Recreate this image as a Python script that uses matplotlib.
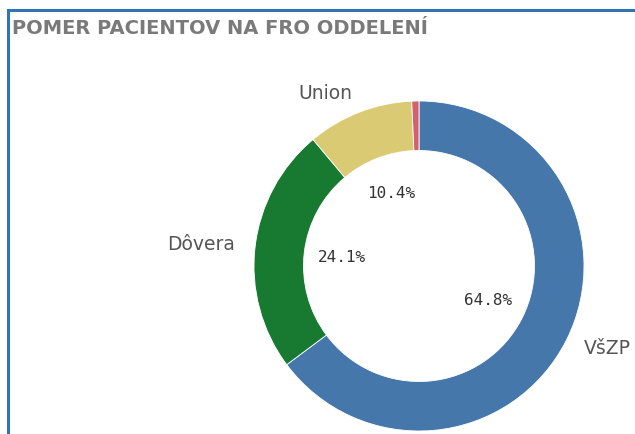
import matplotlib
matplotlib.use("Agg")
import matplotlib.pyplot as plt
from matplotlib.lines import Line2D

title = "POMER PACIENTOV NA FRO ODDELENÍ"
labels = ["VšZP", "Dôvera", "Union", ""]
shares = [64.8, 24.1, 10.4, 0.7]
colors = ["#4677aa", "#187a31", "#dbca74", "#d2606e"]

W, H = 635, 434
fig = plt.figure(figsize=(W / 100, H / 100), dpi=100)

# frame lines on the top and left like the dashboard tile
fig.add_artist(Line2D([8 / W, 1], [1 - 10 / H, 1 - 10 / H], color="#2f75b5", lw=2.2))
fig.add_artist(Line2D([8 / W, 8 / W], [0, 1 - 10 / H], color="#2f75b5", lw=2.2))

fig.text(12 / W, 1 - 29 / H, title, fontsize=14, fontweight="bold", color="#7a7a7a",
         family=["Liberation Sans Narrow", "DejaVu Sans"], va="center", ha="left")

cx, cy, r = 419, 266, 165
ax = fig.add_axes([(cx - r) / W, (H - cy - r) / H, 2 * r / W, 2 * r / H])

def fmt(p):
    return "%.1f%%" % p if p > 1 else ""

wedges, texts, autotexts = ax.pie(
    shares, labels=labels, colors=colors, startangle=90, counterclock=False,
    autopct=fmt, pctdistance=0.47, labeldistance=1.12,
    wedgeprops=dict(width=0.3, edgecolor="white", linewidth=0.6),
    textprops=dict(fontsize=13.5, color="#555555"))
for t in autotexts:
    t.set_family(["DejaVu Sans Mono"])
    t.set_fontsize(11.5)
    t.set_color("#333333")
ax.set_xlim(-1, 1)
ax.set_ylim(-1, 1)
ax.set_aspect("equal")
ax.axis("off")

fig.savefig("out.png", dpi=100)
